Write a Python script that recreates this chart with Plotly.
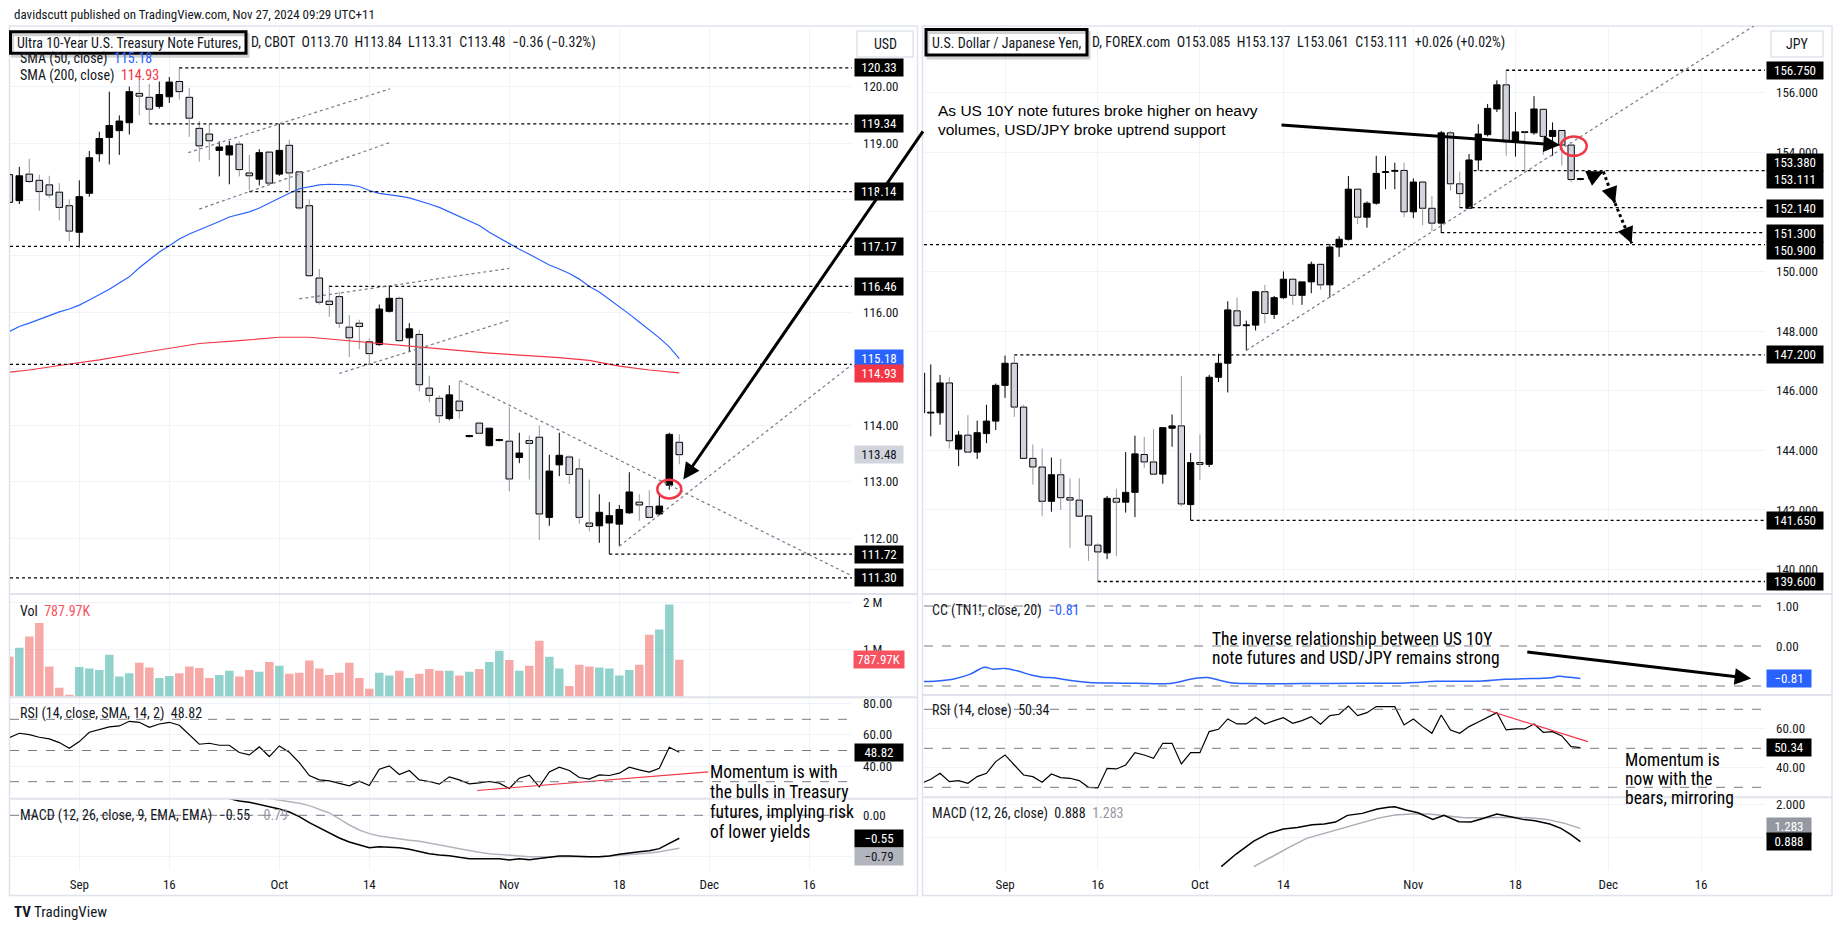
import plotly.graph_objects as go

W, H = 1838, 931

# ================= LEFT: Ultra 10-Year U.S. Treasury Note Futures (1D) =================
L_OPEN = [118.44, 117.98, 118.45, 118.34, 118.26, 118.13, 117.89, 117.42, 118.11, 118.81,
          119.10, 119.22, 119.36, 119.88, 119.81, 119.65, 119.82, 120.09, 119.81, 119.26,
          119.16, 118.87, 118.79, 118.98, 118.47, 118.36, 118.84, 118.45, 118.96, 118.49,
          117.89, 116.61, 116.20, 116.28, 115.74, 115.81, 115.48, 115.43, 116.02, 116.25,
          115.55, 115.61, 114.66, 114.48, 114.12, 114.43, 113.80, 114.04, 113.64, 113.73,
          113.72, 113.43, 113.73, 113.79, 112.37, 113.30, 113.44, 113.23, 112.27, 112.22,
          112.27, 112.25, 112.45, 112.64, 112.56, 112.43, 112.94, 113.70]
L_HIGH = [118.50, 118.58, 118.72, 118.44, 118.42, 118.29, 118.00, 118.34, 118.86, 119.20,
          119.91, 119.49, 120.00, 120.14, 120.05, 120.09, 120.17, 120.34, 119.98, 119.39,
          119.34, 119.03, 119.04, 119.03, 118.79, 118.89, 118.86, 119.34, 119.06, 118.50,
          118.00, 116.77, 116.48, 116.37, 115.95, 115.87, 115.54, 116.14, 116.47, 116.28,
          115.81, 115.69, 114.88, 114.53, 114.71, 114.79, 113.83, 114.06, 113.95, 113.76,
          114.32, 113.87, 113.82, 114.00, 113.48, 113.87, 113.47, 113.41, 113.04, 112.78,
          112.64, 112.59, 113.17, 112.78, 112.85, 112.76, 113.87, 113.84]
L_LOW = [117.90, 117.92, 118.29, 117.80, 118.03, 117.63, 117.26, 117.15, 118.05, 118.67,
         118.62, 118.79, 119.15, 119.49, 119.34, 119.61, 119.71, 119.77, 119.11, 118.67,
         118.70, 118.41, 118.27, 118.41, 118.16, 118.25, 118.27, 118.42, 118.16, 117.82,
         116.63, 116.14, 115.92, 115.72, 115.21, 115.35, 115.08, 115.41, 116.00, 115.48,
         115.31, 114.60, 114.41, 114.04, 114.09, 114.12, 113.79, 113.84, 113.63, 113.72,
         112.83, 113.33, 113.04, 111.97, 112.22, 113.10, 112.96, 112.26, 112.12, 111.92,
         111.72, 111.86, 112.43, 112.31, 112.35, 112.41, 112.86, 113.31]
L_CLOSE = [117.95, 118.42, 118.32, 118.14, 118.08, 117.86, 117.44, 118.05, 118.74, 119.08,
           119.31, 119.39, 119.91, 119.83, 119.60, 119.86, 120.08, 119.91, 119.44, 118.95,
           119.04, 118.93, 118.95, 118.53, 118.42, 118.83, 118.29, 118.87, 118.47, 117.85,
           116.65, 116.18, 116.14, 115.81, 115.55, 115.75, 115.27, 116.06, 116.25, 115.50,
           115.71, 114.72, 114.53, 114.17, 114.54, 114.26, 113.82, 113.86, 113.95, 113.75,
           113.05, 113.51, 113.68, 112.43, 113.19, 113.47, 113.13, 112.37, 112.21, 112.46,
           112.40, 112.51, 112.82, 112.59, 112.37, 112.57, 113.84, 113.48]
L_VOLUME_M = [0.85, 1.04, 1.28, 1.57, 0.64, 0.19, 0.04, 0.63, 0.60, 0.57,
              0.89, 0.43, 0.50, 0.72, 0.62, 0.40, 0.44, 0.50, 0.64, 0.61,
              0.40, 0.46, 0.55, 0.43, 0.57, 0.53, 0.74, 0.66, 0.49, 0.51,
              0.77, 0.60, 0.46, 0.51, 0.72, 0.40, 0.17, 0.51, 0.45, 0.55,
              0.40, 0.49, 0.59, 0.55, 0.55, 0.45, 0.53, 0.59, 0.74, 0.98,
              0.78, 0.55, 0.66, 1.19, 0.85, 0.60, 0.23, 0.68, 0.64, 0.62,
              0.60, 0.45, 0.57, 0.68, 1.32, 1.43, 1.96, 0.788]
L_RSI = [58.27, 61.04, 60.19, 58.49, 57.42, 55.07, 51.45, 55.71, 61.68, 63.60,
         65.10, 65.74, 68.72, 68.08, 64.88, 67.01, 68.08, 66.16, 59.77, 54.01,
         54.65, 53.37, 53.37, 48.68, 47.19, 52.30, 46.12, 52.94, 48.89, 42.28,
         33.97, 31.19, 30.55, 29.06, 27.35, 30.34, 27.57, 38.02, 40.15, 34.61,
         37.16, 31.19, 30.13, 28.42, 33.11, 31.19, 28.64, 29.28, 30.13, 29.06,
         25.65, 32.26, 34.18, 26.72, 36.31, 39.30, 37.16, 32.69, 31.62, 34.39,
         33.97, 35.46, 39.30, 37.59, 36.10, 38.66, 52.09, 48.82]
L_SMA50 = [115.66, 115.75, 115.81, 115.88, 115.94, 116.01, 116.06, 116.13, 116.22, 116.31,
           116.41, 116.52, 116.63, 116.79, 116.93, 117.07, 117.18, 117.30, 117.39, 117.46,
           117.54, 117.61, 117.69, 117.73, 117.78, 117.85, 117.94, 118.03, 118.11, 118.19,
           118.23, 118.26, 118.27, 118.27, 118.26, 118.23, 118.16, 118.11, 118.09, 118.06,
           118.03, 117.98, 117.92, 117.86, 117.78, 117.70, 117.61, 117.54, 117.42, 117.32,
           117.21, 117.12, 117.03, 116.93, 116.84, 116.77, 116.69, 116.59, 116.46, 116.36,
           116.23, 116.11, 115.97, 115.83, 115.69, 115.55, 115.39, 115.18]
L_SMA200_X = [0, 2, 5, 9, 12, 16, 19, 23, 27, 30, 33, 36, 39, 41, 44, 48, 51, 55, 58, 61, 64, 67]
L_SMA200 = [114.94, 114.98, 115.06, 115.16, 115.25, 115.37, 115.45, 115.50, 115.56, 115.56, 115.51,
            115.47, 115.42, 115.39, 115.34, 115.28, 115.25, 115.20, 115.15, 115.05, 114.98, 114.93]
L_MACD_X = list(range(21, 68))
L_MACD = [0.46, 0.40, 0.344, 0.312, 0.264, 0.208, 0.152, 0.08, -0.032, -0.176, -0.304, -0.432,
          -0.544, -0.64, -0.712, -0.776, -0.752, -0.76, -0.776, -0.816, -0.872, -0.92, -0.952,
          -0.968, -1.008, -1.04, -1.04, -1.04, -1.04, -1.072, -1.04, -1.064, -1.04, -1.0, -0.976,
          -0.976, -0.992, -0.992, -0.992, -0.976, -0.936, -0.896, -0.872, -0.848, -0.80, -0.672, -0.55]
L_SIGNAL_X = list(range(25, 68))
L_SIGNAL = [0.44, 0.40, 0.372, 0.336, 0.288, 0.232, 0.152, 0.056, -0.088, -0.232, -0.352, -0.44,
            -0.496, -0.536, -0.568, -0.60, -0.624, -0.664, -0.696, -0.752, -0.80, -0.848, -0.888,
            -0.92, -0.944, -0.96, -0.976, -0.992, -0.992, -0.992, -0.992, -1.0, -1.008, -1.0,
            -0.992, -0.976, -0.96, -0.944, -0.928, -0.904, -0.872, -0.832, -0.79]
L_DATE_POS = [7, 16, 27, 36, 50, 61, 70, 80]
DATE_TEXT = ["Sep", "16", "Oct", "14", "Nov", "18", "Dec", "16"]
L_LEVEL_START = [17, 14, 24, 0, 32, 0, 60, 0]
L_LEVEL_PRICE = [120.33, 119.34, 118.14, 117.17, 116.46, 115.08, 111.72, 111.30]
L_TREND_X0 = [17.9, 19.0, 29.0, 33.0, 45.07, 61.0]
L_TREND_Y0 = [118.83, 117.83, 116.24, 114.92, 114.79, 111.86]
L_TREND_X1 = [38.07, 38.07, 50.0, 50.0, 84.3, 84.3]
L_TREND_Y1 = [119.96, 119.01, 116.78, 115.86, 111.33, 115.08]
L_RSI_TREND = [(46.8, 24.37), (69.9, 36.31)]

# ================= RIGHT: U.S. Dollar / Japanese Yen (1D) =================
R_OPEN = [146.59, 145.25, 145.26, 146.26, 144.04, 144.51, 143.94, 144.56, 144.98, 146.18,
          146.92, 145.45, 143.73, 143.44, 142.29, 143.18, 142.41, 142.33, 141.80, 140.82,
          140.56, 142.39, 142.26, 142.59, 143.86, 143.61, 143.20, 144.74, 144.82, 142.18,
          143.59, 143.53, 146.45, 146.92, 148.68, 148.18, 148.20, 149.32, 148.56, 149.12,
          149.74, 149.20, 149.65, 150.24, 149.55, 150.82, 151.08, 152.76, 151.82, 152.29,
          153.32, 153.36, 153.39, 152.00, 153.00, 152.12, 151.62, 154.65, 152.94, 152.12,
          153.74, 154.59, 155.45, 156.26, 154.33, 154.68, 154.65, 155.44, 154.53, 154.73,
          154.24, 153.085]
R_HIGH = [146.71, 146.88, 146.53, 146.45, 144.65, 145.18, 145.00, 145.53, 146.24, 147.18,
          147.18, 145.53, 144.20, 144.06, 143.76, 143.71, 143.06, 143.06, 141.82, 140.88,
          142.47, 142.71, 143.94, 144.49, 144.45, 144.71, 144.76, 145.20, 146.49, 143.91,
          144.53, 146.53, 147.24, 149.00, 149.12, 148.35, 149.35, 149.55, 149.18, 150.00,
          149.76, 149.65, 150.33, 150.24, 150.92, 151.18, 153.20, 152.76, 152.35, 153.88,
          153.88, 153.65, 153.65, 153.12, 153.00, 152.53, 154.71, 154.71, 153.35, 153.94,
          154.94, 155.62, 156.41, 156.75, 155.35, 154.70, 155.88, 155.44, 155.00, 154.73,
          154.26, 153.137]
R_LOW = [145.18, 144.47, 144.86, 144.06, 143.47, 143.91, 143.71, 144.24, 144.68, 145.76,
         145.12, 143.73, 142.85, 141.79, 141.94, 142.00, 140.73, 141.79, 140.29, 139.60,
         140.35, 140.45, 141.91, 141.76, 143.41, 143.18, 142.88, 144.12, 142.12, 141.65,
         143.00, 143.44, 146.29, 145.94, 148.14, 147.35, 148.02, 148.26, 148.41, 149.08,
         148.88, 148.88, 149.27, 149.39, 149.12, 150.49, 151.04, 151.59, 151.47, 152.24,
         152.76, 152.76, 151.82, 151.79, 151.55, 151.35, 151.29, 152.71, 152.12, 152.09,
         153.39, 154.53, 155.35, 153.88, 153.85, 153.35, 154.59, 153.91, 153.88, 153.55,
         153.00, 153.061]
R_CLOSE = [145.26, 145.27, 146.26, 144.32, 144.51, 143.94, 144.59, 144.98, 146.18, 146.92,
           145.45, 143.73, 143.44, 142.29, 143.18, 142.41, 142.33, 141.79, 140.82, 140.59,
           142.39, 142.26, 142.59, 143.88, 143.61, 143.20, 144.76, 144.82, 142.20, 143.59,
           143.53, 146.45, 146.92, 148.71, 148.18, 148.19, 149.32, 148.59, 149.12, 149.74,
           149.20, 149.65, 150.24, 149.55, 150.82, 151.08, 152.76, 151.82, 152.29, 153.29,
           153.35, 153.38, 152.00, 153.00, 152.12, 151.62, 154.65, 152.94, 152.61, 153.74,
           154.61, 155.47, 156.26, 154.35, 154.68, 154.66, 155.45, 154.53, 154.73, 154.24,
           153.085, 153.111]
R_CC_X = [0.2, 1.7, 3.6, 5.2, 6.8, 7.7, 9.0, 10.3, 11.8, 13.1, 14.4, 16.3, 18.1, 20.7, 23.2, 27.0,
          28.6, 29.8, 30.8, 32.0, 33.3, 35.2, 40.9, 47.2, 52.2, 53.5, 55.4, 60.4, 62.9, 64.8, 66.7,
          68.0, 68.6, 69.9, 71.0]
R_CC = [-0.89, -0.875, -0.817, -0.71, -0.53, -0.58, -0.56, -0.62, -0.725, -0.78, -0.80, -0.87,
        -0.91, -0.925, -0.933, -0.933, -0.85, -0.80, -0.79, -0.85, -0.917, -0.94, -0.94, -0.933,
        -0.925, -0.91, -0.883, -0.875, -0.833, -0.817, -0.81, -0.79, -0.758, -0.783, -0.81]
R_RSI = [32.05, 34.10, 37.18, 32.91, 33.42, 32.05, 35.47, 37.18, 43.16, 46.58,
         41.45, 36.32, 35.47, 32.56, 36.84, 34.96, 34.62, 33.42, 30.00, 29.66,
         39.74, 39.40, 41.45, 47.78, 46.58, 44.87, 52.56, 52.56, 41.97, 47.78,
         47.78, 58.55, 59.74, 65.04, 62.48, 62.48, 65.90, 62.48, 64.19, 65.73,
         62.82, 64.19, 66.24, 62.31, 66.75, 67.44, 71.71, 66.75, 68.29, 71.37,
         71.37, 71.37, 61.97, 65.04, 61.11, 57.69, 67.09, 59.40, 57.69, 61.11,
         63.50, 65.90, 68.29, 59.40, 59.91, 59.91, 62.48, 58.21, 58.55, 56.32,
         50.85, 50.34]
R_MACD_X = [32.3, 33.9, 35.8, 37.4, 39.0, 40.5, 42.1, 43.4, 44.6, 45.9, 47.5, 49.1, 50.3, 51.0,
            52.2, 53.5, 55.1, 56.3, 57.9, 59.2, 60.4, 62.0, 63.6, 64.8, 66.1, 67.7, 68.9, 69.9, 71.0]
R_MACD = [0.148, 0.523, 0.908, 1.135, 1.263, 1.312, 1.391, 1.411, 1.470, 1.668, 1.727, 1.855,
          1.905, 1.925, 1.826, 1.747, 1.549, 1.668, 1.480, 1.470, 1.569, 1.707, 1.618, 1.549,
          1.510, 1.411, 1.283, 1.115, 0.888]
R_SIGNAL_X = [35.8, 37.7, 39.6, 41.5, 43.4, 45.3, 47.2, 49.1, 51.0, 52.8, 54.7, 56.6, 58.5, 60.4,
              62.3, 63.6, 65.5, 67.4, 69.3, 71.0]
R_SIGNAL = [0.148, 0.444, 0.720, 0.987, 1.135, 1.283, 1.451, 1.579, 1.678, 1.707, 1.707, 1.648,
            1.599, 1.599, 1.609, 1.609, 1.599, 1.549, 1.431, 1.283]
R_DATE_POS = [9, 19, 30, 39, 53, 64, 74, 84]
R_LEVEL_START = [63, 59.5, 58, 56, 0, 10, 29, 19]
R_LEVEL_PRICE = [156.75, 153.38, 152.14, 151.30, 150.90, 147.20, 141.65, 139.60]
R_TREND = [(35.0, 147.35), (89.8, 158.26)]
R_RSI_TREND = [(60.9, 69.66), (71.8, 53.42)]
R_PROJECTION = [(71.85, 153.12), (73.47, 153.35), (74.73, 152.29), (76.53, 150.94)]

# ================= styling / layout helpers =================
FONT = "Liberation Sans Narrow, Arial Narrow, Roboto Condensed, DejaVu Sans Condensed, sans-serif"
ARIAL = "Liberation Sans, Arial, sans-serif"
TXT = "#131722"
GRID = "#f0f3fa"
SEP = "#e0e3eb"
DOWN_FILL = "#d1d4dc"
DOWN_WICK = "#9598a1"
BLUE = "#2962ff"
RED = "#f23645"


def fx(p):
    return p / W


def fy(p):
    return 1 - p / H


L_X0, L_X1 = 10, 852
R_X0, R_X1 = 924, 1765
L_XR = [0.07, 84.27]
R_XR = [0.27, 90.89]

fig = go.Figure()


def add_candles(xa, ya, o, h, l, c, width, min_h):
    n = len(o)
    ux, uy, dx, dy = [], [], [], []
    for i in range(n):
        top, bot = max(o[i], c[i]), min(o[i], c[i])
        tx, ty = (ux, uy) if c[i] >= o[i] else (dx, dy)
        tx += [i, i, None, i, i, None]
        ty += [h[i], top, None, bot, l[i], None]
    fig.add_trace(go.Scatter(x=ux, y=uy, mode="lines", line=dict(color="#000000", width=1),
                             xaxis=xa, yaxis=ya, hoverinfo="skip", showlegend=False))
    fig.add_trace(go.Scatter(x=dx, y=dy, mode="lines", line=dict(color=DOWN_WICK, width=1),
                             xaxis=xa, yaxis=ya, hoverinfo="skip", showlegend=False))
    base = [min(o[i], c[i]) for i in range(n)]
    hgt = [max(abs(c[i] - o[i]), min_h) for i in range(n)]
    cols = ["#000000" if c[i] >= o[i] else DOWN_FILL for i in range(n)]
    fig.add_trace(go.Bar(x=list(range(n)), y=hgt, base=base, width=width,
                         marker=dict(color=cols, line=dict(color="#000000", width=1)),
                         xaxis=xa, yaxis=ya, hoverinfo="skip", showlegend=False))


# ---- left traces
add_candles("x", "y", L_OPEN, L_HIGH, L_LOW, L_CLOSE, 0.66, 0.015)
fig.add_trace(go.Scatter(x=list(range(len(L_SMA50))), y=L_SMA50, mode="lines",
                         line=dict(color=BLUE, width=1.2), xaxis="x", yaxis="y", showlegend=False))
fig.add_trace(go.Scatter(x=L_SMA200_X, y=L_SMA200, mode="lines", line=dict(color=RED, width=1.2),
                         xaxis="x", yaxis="y", showlegend=False))
vol_cols = ["rgba(38,166,154,0.5)" if L_CLOSE[i] >= L_OPEN[i] else "rgba(239,83,80,0.5)"
            for i in range(len(L_OPEN))]
fig.add_trace(go.Bar(x=list(range(len(L_VOLUME_M))), y=L_VOLUME_M, width=0.85,
                     marker=dict(color=vol_cols, line=dict(width=0)), xaxis="x2", yaxis="y2",
                     showlegend=False))
fig.add_trace(go.Scatter(x=list(range(len(L_RSI))), y=L_RSI, mode="lines",
                         line=dict(color="#000000", width=1.2), xaxis="x3", yaxis="y3", showlegend=False))
fig.add_trace(go.Scatter(x=[p[0] for p in L_RSI_TREND], y=[p[1] for p in L_RSI_TREND], mode="lines",
                         line=dict(color=RED, width=1.2), xaxis="x3", yaxis="y3", showlegend=False))
fig.add_trace(go.Scatter(x=L_SIGNAL_X, y=L_SIGNAL, mode="lines", line=dict(color="#b2b5be", width=1.5),
                         xaxis="x4", yaxis="y4", showlegend=False))
fig.add_trace(go.Scatter(x=L_MACD_X, y=L_MACD, mode="lines", line=dict(color="#000000", width=1.5),
                         xaxis="x4", yaxis="y4", showlegend=False))

# ---- right traces
add_candles("x5", "y5", R_OPEN, R_HIGH, R_LOW, R_CLOSE, 0.68, 0.03)
fig.add_trace(go.Scatter(x=R_CC_X, y=R_CC, mode="lines", line=dict(color=BLUE, width=1.5, shape="spline"),
                         xaxis="x6", yaxis="y6", showlegend=False))
fig.add_trace(go.Scatter(x=list(range(len(R_RSI))), y=R_RSI, mode="lines",
                         line=dict(color="#000000", width=1.2), xaxis="x7", yaxis="y7", showlegend=False))
fig.add_trace(go.Scatter(x=[p[0] for p in R_RSI_TREND], y=[p[1] for p in R_RSI_TREND], mode="lines",
                         line=dict(color=RED, width=1.2), xaxis="x7", yaxis="y7", showlegend=False))
fig.add_trace(go.Scatter(x=R_SIGNAL_X, y=R_SIGNAL, mode="lines", line=dict(color="#a9acb4", width=1.5),
                         xaxis="x8", yaxis="y8", showlegend=False))
fig.add_trace(go.Scatter(x=R_MACD_X, y=R_MACD, mode="lines", line=dict(color="#000000", width=1.5),
                         xaxis="x8", yaxis="y8", showlegend=False))

# ---- axes
TICKFONT = dict(family=FONT, size=13, color=TXT)


def xax(x0, x1, rng, anchor, vals, labels):
    return dict(domain=[fx(x0), fx(x1)], range=rng, anchor=anchor, tickmode="array", tickvals=vals,
                ticktext=DATE_TEXT, showticklabels=labels, showgrid=True, gridcolor=GRID, zeroline=False,
                showline=False, ticks="", tickfont=TICKFONT, ticklabelstandoff=5, fixedrange=True)


def yax(top, bot, rng, anchor, vals, texts, grid=True):
    return dict(domain=[fy(bot), fy(top)], range=rng, anchor=anchor, side="right", tickmode="array",
                tickvals=vals, ticktext=texts, showgrid=grid, gridcolor=GRID, zeroline=False,
                showline=False, ticks="", tickfont=TICKFONT, ticklabelstandoff=10, fixedrange=True)


# tick texts that sit fully under a value box in the reference are left blank
L_PRICE_TICKS = [112, 113, 114, 115, 116, 117, 118, 119, 120]
L_PRICE_TEXT = ["112.00", "113.00", "114.00", "", "116.00", "", "", "119.00", "120.00"]
R_PRICE_TICKS = [140, 142, 144, 146, 148, 150, 152, 154, 156]
R_PRICE_TEXT = ["140.000", "142.000", "144.000", "146.000", "148.000", "150.000", "", "154.000", "156.000"]

layout = dict(
    width=W, height=H, margin=dict(l=0, r=0, t=0, b=0), paper_bgcolor="white", plot_bgcolor="white",
    barmode="overlay", showlegend=False, hovermode=False,
    xaxis=xax(L_X0, L_X1, L_XR, "y", L_DATE_POS, False),
    xaxis2=xax(L_X0, L_X1, L_XR, "y2", L_DATE_POS, False),
    xaxis3=xax(L_X0, L_X1, L_XR, "y3", L_DATE_POS, False),
    xaxis4=xax(L_X0, L_X1, L_XR, "y4", L_DATE_POS, True),
    xaxis5=xax(R_X0, R_X1, R_XR, "y5", R_DATE_POS, False),
    xaxis6=xax(R_X0, R_X1, R_XR, "y6", R_DATE_POS, False),
    xaxis7=xax(R_X0, R_X1, R_XR, "y7", R_DATE_POS, False),
    xaxis8=xax(R_X0, R_X1, R_XR, "y8", R_DATE_POS, True),
    yaxis=yax(26, 594, [111.013, 121.073], "x", L_PRICE_TICKS, L_PRICE_TEXT),
    yaxis2=yax(594, 697.3, [-0.013, 2.185], "x2", [1, 2], ["1 M", "2 M"]),
    yaxis3=yax(697.3, 798.7, [19.10, 84.10], "x3", [40, 60, 80], ["40.00", "60.00", "80.00"]),
    yaxis4=yax(798.7, 870, [-1.312, 0.398], "x4", [-1, 0], ["", "0.00"]),
    yaxis5=yax(26, 594, [139.18, 158.234], "x5", R_PRICE_TICKS, R_PRICE_TEXT),
    yaxis6=yax(594, 695, [-1.225, 1.30], "x6", [-1, 0, 1], ["", "0.00", "1.00"], grid=False),
    yaxis7=yax(695, 797.3, [24.87, 77.33], "x7", [40, 60], ["40.00", "60.00"]),
    yaxis8=yax(797.3, 870, [0.050, 2.203], "x8", [1, 2], ["", "2.000"]),
)
fig.update_layout(**layout)

shapes = []
# panel frames and pane separators
for (a, b) in [(9.5, 917.5), (922.5, 1832)]:
    shapes.append(dict(type="rect", xref="paper", yref="paper", x0=fx(a), x1=fx(b), y0=fy(895.5), y1=fy(26),
                       line=dict(color=SEP, width=1.5), layer="below"))
for yy in [594, 697.3, 798.7]:
    shapes.append(dict(type="line", xref="paper", yref="paper", x0=fx(9.5), x1=fx(917.5), y0=fy(yy), y1=fy(yy),
                       line=dict(color=SEP, width=2)))
for yy in [594, 695, 797.3]:
    shapes.append(dict(type="line", xref="paper", yref="paper", x0=fx(922.5), x1=fx(1832), y0=fy(yy), y1=fy(yy),
                       line=dict(color=SEP, width=2)))

# horizontal level lines (dotted)
for s, p in zip(L_LEVEL_START, L_LEVEL_PRICE):
    shapes.append(dict(type="line", xref="x", yref="y", x0=max(s, L_XR[0]), x1=L_XR[1], y0=p, y1=p,
                       line=dict(color="#000000", width=1.3, dash="dot")))
for s, p in zip(R_LEVEL_START, R_LEVEL_PRICE):
    shapes.append(dict(type="line", xref="x5", yref="y5", x0=max(s, R_XR[0]), x1=R_XR[1], y0=p, y1=p,
                       line=dict(color="#000000", width=1.3, dash="dot")))
# trend lines
for x0, y0, x1, y1 in zip(L_TREND_X0, L_TREND_Y0, L_TREND_X1, L_TREND_Y1):
    shapes.append(dict(type="line", xref="x", yref="y", x0=x0, y0=y0, x1=x1, y1=y1,
                       line=dict(color="#787b86", width=1.2, dash="dot")))
shapes.append(dict(type="line", xref="x5", yref="y5", x0=R_TREND[0][0], y0=R_TREND[0][1],
                   x1=R_TREND[1][0], y1=R_TREND[1][1], line=dict(color="#787b86", width=1.2, dash="dot")))
# RSI / CC / MACD dashed reference lines
for v in [70, 50, 30]:
    shapes.append(dict(type="line", xref="x3 domain", yref="y3", x0=0, x1=1, y0=v, y1=v,
                       line=dict(color="#787b86", width=1, dash="dash")))
    shapes.append(dict(type="line", xref="x7 domain", yref="y7", x0=0, x1=1, y0=v, y1=v,
                       line=dict(color="#787b86", width=1, dash="dash")))
for v in [1, 0, -1]:
    shapes.append(dict(type="line", xref="x6 domain", yref="y6", x0=0, x1=1, y0=v, y1=v,
                       line=dict(color="#787b86", width=1, dash="dash")))
shapes.append(dict(type="line", xref="x4 domain", yref="y4", x0=0, x1=1, y0=0, y1=0,
                   line=dict(color="#787b86", width=1, dash="dash")))
# red circles
shapes.append(dict(type="circle", xref="x", yref="y", x0=64.8, x1=67.2, y0=112.705, y1=113.035,
                   line=dict(color=RED, width=2.5)))
shapes.append(dict(type="circle", xref="x5", yref="y5", x0=68.88, x1=71.68, y0=153.88, y1=154.53,
                   line=dict(color=RED, width=2.5)))
# dotted projection path
for (a, b) in zip(R_PROJECTION[:-1], R_PROJECTION[1:]):
    shapes.append(dict(type="line", xref="x5", yref="y5", x0=a[0], y0=a[1], x1=b[0], y1=b[1],
                       line=dict(color="#000000", width=3, dash="dot")))
# title boxes (with soft shadow)
for (a, b, c, d) in [(10.5, 31.7, 246, 53.3), (926, 29.5, 1087, 55)]:
    shapes.append(dict(type="rect", xref="paper", yref="paper", x0=fx(a + 2), x1=fx(c + 2), y0=fy(d + 3),
                       y1=fy(b + 3), line=dict(color="rgba(0,0,0,0.18)", width=3)))
    shapes.append(dict(type="rect", xref="paper", yref="paper", x0=fx(a), x1=fx(c), y0=fy(d), y1=fy(b),
                       line=dict(color="#000000", width=3)))
# currency buttons
for (a, c) in [(857, 913), (1771, 1823)]:
    shapes.append(dict(type="rect", xref="paper", yref="paper", x0=fx(a), x1=fx(c), y0=fy(57), y1=fy(31),
                       line=dict(color=SEP, width=1.5), fillcolor="white"))
fig.update_layout(shapes=shapes)

ann = []


def text(t, x, y, size=13, color=TXT, family=FONT, anchor="left"):
    ann.append(dict(text=t, x=fx(x), y=fy(y), xref="paper", yref="paper", xanchor=anchor, yanchor="middle",
                    showarrow=False, font=dict(family=family, size=size, color=color)))


def vlabel(t, xc, yref, y, bg, fg="#ffffff", w=46):
    ann.append(dict(text=t, x=fx(xc), xref="paper", y=y, yref=yref, xanchor="center", yanchor="middle",
                    showarrow=False, bgcolor=bg, font=dict(family=FONT, size=13, color=fg), width=w,
                    height=15, borderpad=1))


text("davidscutt published on TradingView.com, Nov 27, 2024 09:29 UTC+11", 12, 15)
text("Ultra 10-Year U.S. Treasury Note Futures,", 15, 42.5, size=14)
text("D, CBOT  O113.70  H113.84  L113.31  C113.48  \u22120.36 (\u22120.32%)", 249, 42.5, size=14)
text("SMA (50, close)  <span style='color:%s'>115.18</span>" % BLUE, 18, 58.2, size=14)
text("SMA (200, close)  <span style='color:%s'>114.93</span>" % RED, 18, 75.8, size=14)
text("Vol  <span style='color:#f7525f'>787.97K</span>", 18, 610.7, size=14)
text("RSI (14, close, SMA, 14, 2)  48.82", 18, 713.3, size=14)
text("MACD (12, 26, close, 9, EMA, EMA)  \u22120.55  <span style='color:#9598a1'>\u22120.79</span>", 18, 815.3, size=14)
text("U.S. Dollar / Japanese Yen,", 930, 42.5, size=14)
text("D, FOREX.com  O153.085  H153.137  L153.061  C153.111  +0.026 (+0.02%)", 1090, 42.5, size=14)
text("CC (TN1!, close, 20)  <span style='color:%s'>\u22120.81</span>" % BLUE, 930, 610, size=14)
text("RSI (14, close)  50.34", 930, 710, size=14)
text("MACD (12, 26, close)  0.888  <span style='color:#9598a1'>1.283</span>", 930, 813.3, size=14)
text("USD", 885, 44, size=14, anchor="center")
text("JPY", 1797, 44, size=14, anchor="center")
text("<b>TV</b> TradingView", 12, 912, size=15, color="#131722")

# commentary
text("As US 10Y note futures broke higher on heavy", 936, 110.1, size=15.5, color="#000000", family=ARIAL)
text("volumes, USD/JPY broke uptrend support", 936, 129.4, size=15.5, color="#000000", family=ARIAL)
text("The inverse relationship between US 10Y", 1210, 639.3, size=17.5, color="#000000")
text("note futures and USD/JPY remains strong", 1210, 658.3, size=17.5, color="#000000")
for i, line in enumerate(["Momentum is with", "the bulls in Treasury", "futures, implying risk", "of lower yields"]):
    text(line, 708, 771.7 + 20 * i, size=17.5, color="#000000")
for i, line in enumerate(["Momentum is", "now with the", "bears, mirroring"]):
    text(line, 1622.6, 760 + 19.2 * i, size=17.5, color="#000000")

# price-scale value boxes (left)
for p in [120.33, 119.34, 118.14, 117.17, 116.46, 111.72, 111.30]:
    vlabel("%.2f" % p, 879, "y", p, "#000000")
vlabel("115.18", 879, "y", 115.18, BLUE)
vlabel("114.93", 879, "y", 114.92, RED)
vlabel("113.48", 879, "y", 113.48, DOWN_FILL, fg=TXT)
vlabel("787.97K", 879, "y2", 0.788, "#f7525f", w=48)
vlabel("48.82", 879, "y3", 48.82, "#000000")
vlabel("\u22120.55", 879, "y4", -0.55, "#000000")
vlabel("\u22120.79", 879, "y4", -0.98, "#b2b5be", fg=TXT)
# right
for txt_, p in [("156.750", 156.75), ("153.380", 153.65), ("153.111", 153.09), ("152.140", 152.11),
                ("151.300", 151.27), ("150.900", 150.71), ("147.200", 147.20), ("141.650", 141.65),
                ("139.600", 139.60)]:
    vlabel(txt_, 1795, "y5", p, "#000000", w=54)
vlabel("\u22120.81", 1789, "y6", -0.81, BLUE, w=42)
vlabel("50.34", 1789, "y7", 50.34, "#000000", w=42)
vlabel("1.283", 1789, "y8", 1.353, "#9598a1", w=42)
vlabel("0.888", 1789, "y8", 0.888, "#000000", w=42)

# arrows
ann.append(dict(text="", x=67.4, y=113.04, xref="x", yref="y", ax=240.7, ay=-349.6, showarrow=True,
                arrowhead=2, arrowsize=1.1, arrowwidth=3, arrowcolor="#000000"))
ann.append(dict(text="", x=68.8, y=154.24, xref="x5", yref="y5", ax=-280, ay=-20.2, showarrow=True,
                arrowhead=2, arrowsize=1.1, arrowwidth=3, arrowcolor="#000000"))
ann.append(dict(text="", x=89.4, y=-0.81, xref="x6", yref="y6", ax=-225.4, ay=-26.6, showarrow=True,
                arrowhead=2, arrowsize=1.1, arrowwidth=3, arrowcolor="#000000"))
for (px_, py_, ax_, ay_) in [(R_PROJECTION[1][0], R_PROJECTION[1][1], -8, 3.7),
                             (R_PROJECTION[2][0], R_PROJECTION[2][1], -3.1, -8.4),
                             (R_PROJECTION[3][0], R_PROJECTION[3][1], -3.5, -8.3)]:
    ann.append(dict(text="", x=px_, y=py_, xref="x5", yref="y5", ax=ax_, ay=ay_, showarrow=True,
                    arrowhead=2, arrowsize=1.3, arrowwidth=2.5, arrowcolor="#000000"))
fig.update_layout(annotations=ann)

fig.write_html("out.html", include_plotlyjs=True, full_html=True,
               config={"displayModeBar": False, "staticPlot": True},
               post_script="document.body.style.margin='0';document.body.style.overflow='hidden';")
